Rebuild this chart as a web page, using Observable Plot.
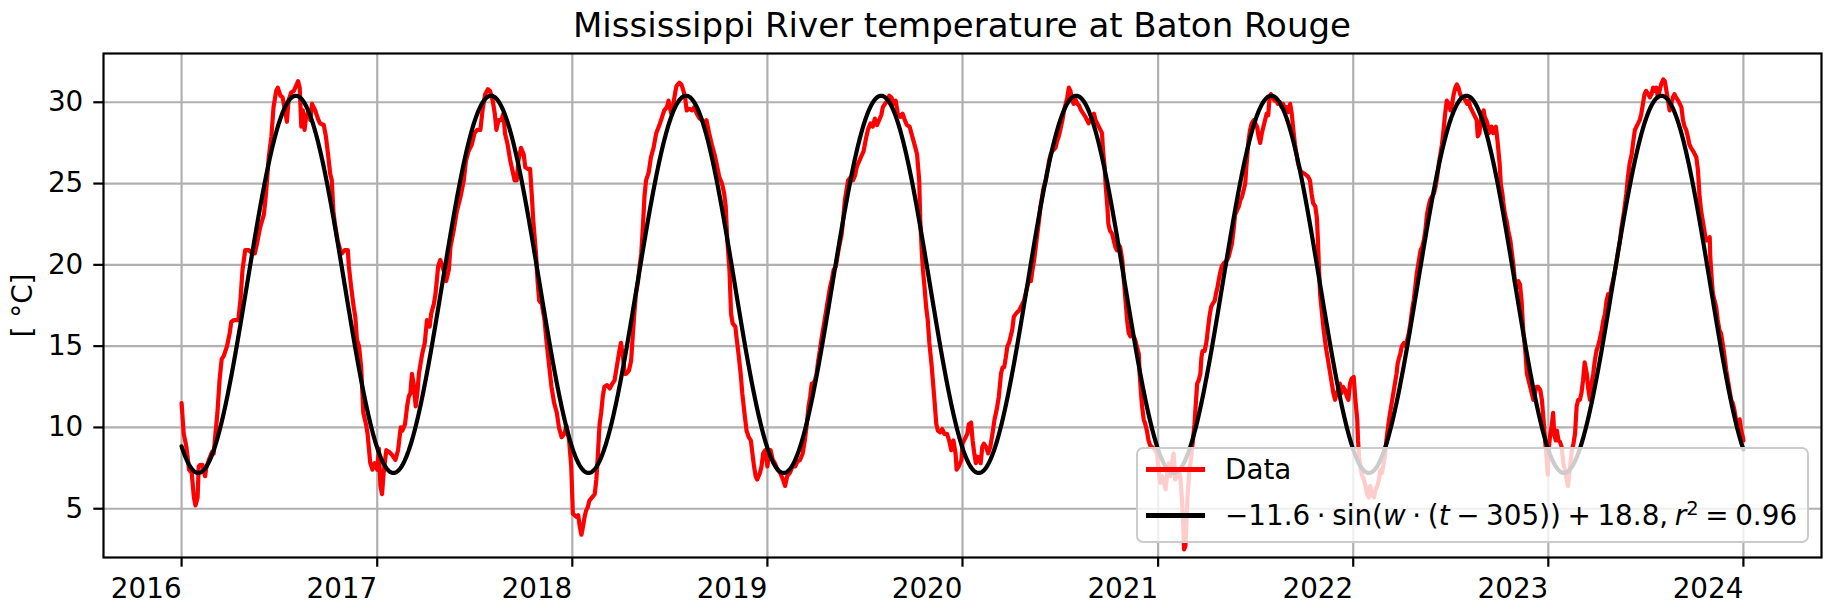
<!DOCTYPE html>
<html>
<head>
<meta charset="utf-8">
<script src="https://cdn.jsdelivr.net/npm/d3@7"></script>
<script src="https://cdn.jsdelivr.net/npm/@observablehq/plot@0.6"></script>
<style>
html, body { margin: 0; padding: 0; background: #fff; }
#wrap { position: relative; width: 1836px; height: 614px; font-family: "DejaVu Sans", sans-serif; color: #000; overflow: hidden; }
#title { position: absolute; left: 103px; width: 1718px; top: 7.5px; text-align: center; font-size: 34px; line-height: 1; white-space: nowrap; }
#chart { position: absolute; left: 0; top: 44px; }
#legend { position: absolute; left: 1136px; top: 447px; width: 673px; height: 96px; box-sizing: border-box;
  background: rgba(255,255,255,0.8); border: 2.2px solid #cccccc; border-radius: 7px; font-size: 27.8px; }
.row { position: absolute; left: 0; right: 0; height: 46px; }
.handle { position: absolute; left: 8px; width: 59px; height: 4.2px; top: 20.9px; }
.label { position: absolute; left: 87px; top: 0; line-height: 46px; white-space: nowrap; }
.math { word-spacing: -2.2px; }
.label sup { font-size: 0.7em; vertical-align: 0.5em; line-height: 0; }
</style>
</head>
<body>
<div id="wrap">
  <div id="title">Mississippi River temperature at Baton Rouge</div>
  <div id="chart"></div>
  <div id="legend">
    <div class="row" style="top:-2.5px"><span class="handle" style="background:#ff0000"></span><span class="label">Data</span></div>
    <div class="row" style="top:43.5px"><span class="handle" style="background:#000"></span><span class="label math">−11.6 · sin(<i>w</i> · (<i>t</i> − 305)) + 18.8, <i>r</i><sup>2</sup> = 0.96</span></div>
  </div>
</div>
<script>
// Tick values
const yearTicks = [2016, 2017, 2018, 2019, 2020, 2021, 2022, 2023, 2024];
const tempTicks = [5, 10, 15, 20, 25, 30];

// Fit parameters (from the legend): -11.6*sin(w*(t-305))+18.8, t in days since 2016-01-01
const fitAmplitude = -11.6;
const fitShift = 305;
const fitOffset = 18.8;
const fitPeriodDays = 365;

// Measured river temperature, [day of year, °C], one array per year
const y2016 = [[0,11.5],[4,9.6],[9,8.8],[14,7.4],[19,7.2],[23,5.7],[26,5.2],[30,5.7],[32,7.6],[35,7.7],[39,7.7],[44,7.0],[46,7.5],[51,8.0],[57,8.5],[60,8.4],[67,10.9],[71,12.9],[75,14.2],[79,14.4],[85,15.0],[90,15.8],[93,16.5],[98,16.6],[106,16.6],[110,17.8],[114,19.7],[119,20.9],[126,20.9],[132,20.7],[137,20.7],[141,21.3],[147,22.3],[154,23.1],[158,24.4],[163,26.6],[168,27.9],[172,29.7],[177,30.7],[180,30.9],[185,30.4],[189,30.3],[194,29.4],[197,28.8],[200,30.1],[205,30.6],[210,30.7],[214,31.0],[218,31.3],[221,30.9],[224,28.5],[227,29.5],[230,28.3],[233,29.1],[238,29.5],[241,28.9],[244,29.9],[250,29.5],[255,29.0],[259,28.7],[266,28.6],[270,27.9],[274,26.8],[278,25.6],[281,25.2],[284,23.3],[287,22.5],[292,21.5],[297,20.9],[300,20.7],[305,20.9],[311,20.9],[313,19.9],[317,18.7],[322,17.4],[325,16.8],[328,15.4],[332,15.0],[336,13.7],[340,10.9],[345,10.2],[348,9.6],[353,7.8],[357,7.4],[361,7.8]];
const y2017 = [[0,7.4],[3,8.7],[6,6.4],[9,5.9],[12,7.2],[17,8.6],[22,8.5],[28,8.3],[34,8.0],[39,8.6],[44,10.0],[47,9.8],[52,10.2],[56,11.3],[59,11.9],[62,12.1],[65,13.3],[68,12.7],[72,11.3],[75,12.1],[78,13.3],[84,14.5],[89,15.2],[93,16.6],[98,16.2],[101,17.0],[106,17.6],[109,18.2],[114,19.9],[118,20.3],[124,19.7],[129,19.0],[134,19.7],[137,21.1],[143,22.1],[149,23.3],[156,24.2],[162,25.2],[166,26.4],[171,27.0],[177,27.4],[182,28.1],[187,28.3],[193,28.3],[197,29.5],[202,30.5],[207,30.8],[211,30.7],[216,30.1],[220,29.3],[223,28.3],[227,28.9],[232,28.9],[236,29.3],[239,28.1],[244,27.4],[249,26.4],[253,25.8],[257,25.2],[261,25.2],[264,26.4],[269,27.2],[274,26.8],[277,26.0],[282,25.9],[286,25.9],[289,24.4],[292,22.7],[297,20.7],[300,19.0],[303,17.8],[308,17.6],[313,16.6],[317,15.2],[322,13.7],[326,12.5],[331,11.5],[336,10.9],[340,10.0],[345,9.4],[350,9.6],[354,10.1],[359,9.2],[363,7.6]];
const y2018 = [[1,4.7],[8,4.5],[11,4.6],[14,3.9],[17,3.4],[20,3.9],[23,4.5],[26,4.9],[29,5.1],[32,5.5],[37,5.7],[42,5.9],[45,6.8],[48,8.4],[51,10.2],[54,10.9],[57,11.9],[60,12.5],[65,12.6],[70,12.4],[75,12.7],[79,12.9],[82,13.5],[85,14.1],[88,14.7],[91,15.2],[95,14.3],[98,13.3],[101,13.3],[106,13.5],[110,14.1],[113,15.6],[116,17.0],[119,18.2],[123,19.0],[126,19.9],[129,20.7],[132,22.3],[135,24.2],[138,25.2],[143,25.7],[147,26.6],[152,27.2],[157,28.1],[163,28.6],[168,29.1],[172,29.5],[177,29.7],[180,30.1],[185,29.3],[189,29.9],[193,30.7],[195,31.0],[200,31.2],[204,31.1],[208,30.7],[211,30.3],[214,29.5],[219,29.6],[224,29.5],[228,29.7],[233,29.3],[238,29.0],[243,28.9],[247,28.7],[251,28.9],[256,28.1],[261,27.4],[266,26.8],[270,26.2],[275,25.4],[280,25.0],[284,24.4],[287,23.6],[290,21.5],[294,19.7],[297,17.0],[300,16.4],[305,16.2],[307,15.6],[311,14.5],[315,13.3],[318,12.1],[322,10.9],[326,9.8],[330,9.4],[334,9.2],[337,8.4],[340,7.6],[343,7.0],[346,6.8],[351,7.2],[354,7.6],[357,8.4],[361,8.6]];
const y2019 = [[0,7.6],[2,8.2],[6,8.6],[10,8.0],[14,7.8],[19,7.4],[24,7.2],[29,6.8],[33,6.4],[37,7.0],[42,7.2],[47,7.6],[52,7.6],[56,7.9],[61,8.0],[66,8.4],[70,9.2],[73,10.0],[77,11.3],[80,11.9],[83,12.7],[86,12.7],[89,12.9],[92,13.3],[95,14.1],[98,14.7],[101,15.4],[105,16.2],[108,16.8],[111,17.4],[114,18.0],[117,18.6],[120,19.0],[124,19.7],[128,19.9],[131,20.5],[134,21.1],[139,21.9],[142,22.9],[145,24.0],[148,24.6],[151,25.2],[156,25.4],[160,25.2],[164,25.5],[167,26.0],[172,26.4],[176,26.7],[180,27.0],[184,27.7],[188,28.3],[193,28.7],[197,28.5],[201,29.0],[205,28.6],[209,28.9],[213,29.2],[216,29.7],[220,29.9],[224,30.1],[228,30.4],[232,30.3],[236,29.9],[240,30.1],[244,29.3],[249,29.1],[253,29.3],[257,28.9],[261,28.6],[266,28.5],[271,27.9],[276,27.3],[280,26.8],[284,25.2],[286,22.7],[289,20.7],[291,19.7],[294,18.6],[297,17.4],[300,16.6],[303,15.2],[307,13.9],[310,12.7],[313,11.5],[316,10.2],[319,9.8],[323,9.7],[327,9.9],[331,9.6],[336,9.6],[340,9.2],[344,8.6],[348,9.2],[352,8.4],[354,7.4],[358,7.6],[363,8.0]];
const y2020 = [[0,9.0],[3,9.2],[6,9.4],[9,9.6],[12,10.2],[16,10.3],[19,9.2],[22,8.4],[25,7.8],[28,8.2],[31,8.1],[34,7.8],[37,8.8],[40,9.0],[44,8.8],[48,8.4],[52,8.8],[56,9.6],[60,10.5],[64,11.1],[68,11.9],[72,13.3],[75,13.7],[78,13.7],[81,14.3],[84,15.0],[87,15.2],[90,15.6],[93,16.0],[96,16.8],[100,17.0],[103,17.1],[106,17.2],[109,17.4],[112,17.6],[115,17.8],[118,18.2],[121,18.6],[124,19.0],[128,19.0],[131,19.7],[134,20.3],[137,21.1],[140,21.9],[143,22.7],[146,23.6],[149,24.2],[152,24.8],[156,25.2],[159,25.8],[162,26.4],[165,26.8],[168,27.0],[171,27.1],[174,27.2],[177,27.6],[180,27.9],[183,28.3],[187,28.9],[190,29.5],[193,29.9],[196,30.3],[199,30.9],[202,30.7],[205,30.1],[208,29.9],[211,30.2],[215,29.9],[218,29.8],[222,29.5],[226,29.3],[230,29.1],[233,28.9],[236,28.7],[239,28.9],[243,29.2],[246,29.3],[249,28.9],[252,28.7],[255,28.5],[258,28.3],[261,28.1],[263,27.0],[266,26.0],[268,24.8],[271,23.6],[273,22.5],[276,22.1],[280,21.9],[283,21.5],[286,21.1],[289,20.9],[292,21.2],[295,21.1],[299,20.3],[302,19.0],[305,17.8],[308,16.6],[311,15.8],[314,15.6],[317,15.8],[320,15.6],[323,15.4],[326,15.0],[330,14.5],[331,13.5],[334,12.1],[336,11.3],[339,10.5],[342,10.2],[345,9.8],[348,9.2],[351,8.9],[354,8.8],[358,8.7],[364,8.4]];
const y2021 = [[1,7.4],[4,6.6],[8,7.0],[11,6.6],[14,6.2],[17,7.2],[20,7.8],[23,7.0],[26,7.8],[29,8.4],[32,6.8],[35,7.0],[39,7.4],[42,6.8],[45,5.3],[47,3.9],[48.5,2.5],[51,2.7],[53,4.1],[55,5.7],[58,7.2],[62,8.2],[65,9.2],[68,10.2],[71,11.7],[73,12.7],[76,12.9],[79,13.3],[81,14.3],[83,14.7],[87,14.7],[90,15.2],[91,15.4],[93,16.0],[96,16.8],[99,17.4],[102,17.6],[106,17.8],[108,18.2],[111,18.6],[113,19.0],[116,19.5],[119,19.9],[123,20.1],[126,20.2],[129,20.3],[132,20.5],[135,20.9],[138,21.3],[141,22.1],[144,23.1],[147,23.3],[151,23.6],[154,24.0],[157,24.2],[160,24.6],[163,25.0],[165,26.0],[167,26.8],[169,27.6],[172,28.3],[175,28.7],[179,28.9],[182,28.7],[185,28.5],[188,27.9],[191,27.5],[194,28.1],[197,28.5],[200,28.9],[203,29.3],[206,29.2],[208,30.1],[211,30.5],[214,30.3],[218,30.1],[221,30.1],[224,29.9],[228,30.0],[231,29.7],[234,29.9],[238,29.5],[241,29.7],[244,29.4],[247,29.9],[250,29.3],[253,28.3],[256,27.4],[259,26.8],[262,26.2],[266,25.8],[269,25.7],[274,25.6],[278,25.5],[281,25.4],[284,25.2],[287,24.4],[290,23.8],[294,23.6],[297,22.9],[299,21.5],[301,19.7],[303,18.2],[306,17.2],[309,16.2],[312,15.4],[315,14.7],[318,14.1],[322,13.3],[325,12.7],[328,12.1],[331,11.7],[334,12.1],[337,12.3],[340,12.7],[343,12.1],[346,12.5],[350,12.3],[353,11.9],[356,11.7],[359,12.7],[362,13.0]];
const y2022 = [[1,13.1],[4,11.7],[7.5,10.5],[9,9.2],[11,8.2],[14,7.4],[17,7.0],[20,6.8],[23,6.4],[26,5.9],[29,5.7],[32,6.4],[35,5.9],[39,5.7],[42,6.2],[45,6.4],[48,6.8],[51,7.4],[54,7.2],[57,7.8],[60,8.4],[62,9.2],[65,10.0],[68,10.7],[71,11.3],[75,12.1],[77,12.5],[81,13.3],[83,13.9],[86,14.3],[88,14.5],[91,15.0],[95,15.2],[98,15.0],[101,15.4],[104,15.8],[107,16.4],[110,17.2],[113,17.8],[116,18.6],[119,19.5],[123,20.3],[126,20.9],[129,21.1],[132,21.5],[135,22.1],[138,23.1],[141,23.6],[144,24.0],[147,24.2],[151,24.4],[154,24.8],[157,25.4],[160,26.2],[163,26.8],[166,27.4],[169,28.3],[172,29.3],[175,30.1],[179,29.9],[182,29.5],[185,29.9],[188,30.5],[191,30.9],[194,31.1],[197,30.9],[200,30.5],[203,30.3],[206,30.3],[210,30.1],[213,29.9],[216,30.1],[219,29.7],[222,29.5],[225,29.3],[228,29.1],[231,28.9],[233,27.9],[236,28.1],[239,28.9],[241,29.3],[244,29.5],[246,29.1],[249,28.9],[251,28.7],[254,28.1],[256,28.3],[259,28.5],[262,28.1],[265,28.3],[267,28.5],[270,27.6],[274,26.2],[276,25.0],[279,24.4],[281,23.8],[284,23.1],[287,22.7],[290,22.1],[294,21.5],[297,20.7],[300,19.9],[303,18.8],[306,18.6],[309,19.0],[312,18.8],[315,17.8],[318,16.0],[322,14.7],[325,13.3],[328,12.9],[331,12.5],[334,12.1],[337,11.7],[340,12.1],[343,12.5],[346,12.5],[350,12.3],[353,11.7],[356,10.5],[359,9.2],[362,8.0],[364,7.1]];
const y2023 = [[0,8.4],[3,9.4],[6,10.0],[9,10.9],[11,9.6],[14,9.2],[16,9.8],[19,9.2],[22,9.1],[25,8.8],[28,7.8],[31,7.4],[34,6.8],[37,6.4],[40,7.4],[44,8.6],[47,9.0],[50,9.6],[53,11.3],[56,11.7],[59,11.7],[62,12.1],[65,12.9],[68,14.0],[72,13.3],[75,12.3],[78,11.7],[81,12.7],[84,13.3],[87,14.1],[90,14.7],[93,15.0],[96,15.4],[100,16.0],[103,16.6],[106,17.0],[109,17.8],[112,18.2],[115,18.0],[118,18.6],[121,19.0],[124,19.5],[128,20.3],[131,20.9],[134,21.5],[137,22.3],[140,22.9],[143,23.6],[146,24.4],[149,25.4],[152,26.2],[156,26.8],[159,27.6],[162,28.3],[165,28.5],[168,28.7],[171,28.9],[174,29.3],[177,29.9],[180,30.5],[183,30.7],[187,30.5],[190,30.3],[193,30.5],[196,30.9],[199,30.7],[202,30.9],[205,30.3],[208,30.7],[211,31.1],[215,31.4],[218,31.3],[221,30.7],[224,30.1],[227,29.5],[230,29.9],[233,30.3],[236,30.5],[239,30.3],[243,30.1],[246,29.9],[249,29.7],[252,28.9],[255,28.5],[258,28.3],[261,27.9],[264,27.4],[267,27.2],[271,27.0],[274,26.8],[277,26.6],[280,25.8],[283,24.2],[286,23.3],[289,22.7],[292,22.1],[295,21.5],[299,21.5],[302,21.7],[303,20.5],[306,19.0],[308,18.2],[311,17.8],[314,17.4],[317,16.6],[320,16.0],[323,15.8],[326,15.2],[330,14.3],[333,13.5],[336,12.9],[339,12.3],[342,11.7],[345,11.5],[348,11.1],[351,10.5],[354,10.0],[358,10.5],[361,9.8],[364,9.4],[365,9.2]];

const DAY = 864e5;
const years = [[2016, y2016], [2017, y2017], [2018, y2018], [2019, y2019], [2020, y2020], [2021, y2021], [2022, y2022], [2023, y2023]];
const data = [];
for (const [yr, arr] of years) for (const [d, v] of arr) data.push({date: new Date(Date.UTC(yr, 0, 1) + d * DAY), temp: v});

const start = Date.UTC(2016, 0, 1), end = Date.UTC(2024, 0, 1);
const pad = (end - start) * 0.05;
const nDays = Math.round((end - start) / DAY);
const w = 2 * Math.PI / fitPeriodDays;
const fit = d3.range(0, nDays + 1).map(t => ({date: new Date(start + t * DAY), temp: fitAmplitude * Math.sin(w * (t - fitShift)) + fitOffset}));

const yearDates = yearTicks.map(y => new Date(Date.UTC(y, 0, 1)));
const gridStyle = {stroke: "#b0b0b0", strokeOpacity: 1, strokeWidth: 2.2};

const chart = Plot.plot({
  width: 1836,
  height: 570,
  marginTop: 9,
  marginBottom: 57,
  marginLeft: 103,
  marginRight: 15,
  style: {fontFamily: '"DejaVu Sans", sans-serif', fontSize: "27.8px", background: "transparent", color: "#000", overflow: "visible"},
  x: {type: "utc", domain: [new Date(start - pad), new Date(end + pad)]},
  y: {domain: [2, 33], label: "[ °C]"},
  marks: [
    Plot.gridX(yearDates, gridStyle),
    Plot.gridY(tempTicks, gridStyle),
    Plot.line(data, {x: "date", y: "temp", stroke: "#ff0000", strokeWidth: 4.2}),
    Plot.line(fit, {x: "date", y: "temp", stroke: "#000000", strokeWidth: 4.2}),
    Plot.frame({stroke: "#000", strokeWidth: 2.2}),
    Plot.axisX(yearDates, {tickSize: 9.7, tickPadding: 11, strokeWidth: 2.2, textAnchor: "end", tickFormat: d => String(d.getUTCFullYear()), label: null}),
    Plot.axisY(tempTicks, {tickSize: 9.7, tickPadding: 10.5, strokeWidth: 2.2, label: "[ °C]", labelAnchor: "center", labelArrow: "none", labelOffset: 91})
  ]
});
document.getElementById("chart").appendChild(chart);
</script>
</body>
</html>
